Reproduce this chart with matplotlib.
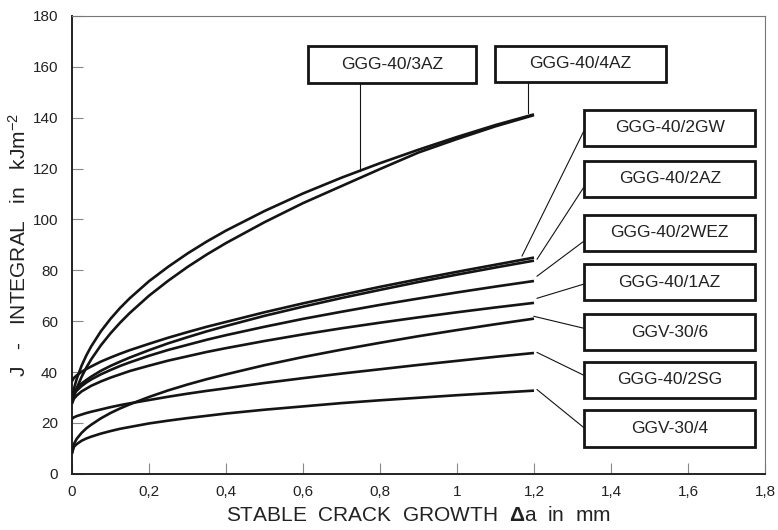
import numpy as np
import matplotlib
matplotlib.use("Agg")
import matplotlib.pyplot as plt
from matplotlib.patches import Rectangle

plt.rcParams['font.family'] = ['Liberation Sans', 'DejaVu Sans']
plt.rcParams['mathtext.fontset'] = 'custom'
plt.rcParams['mathtext.rm'] = 'Liberation Sans'
plt.rcParams['mathtext.bf'] = 'Liberation Sans:bold'
plt.rcParams['mathtext.it'] = 'Liberation Sans:italic'

# crack growth (mm) sample positions
crack_growth = [0, 0.005, 0.0125, 0.025, 0.0375, 0.05, 0.075, 0.1, 0.125, 0.15, 0.2, 0.25,
                0.3, 0.35, 0.4, 0.5, 0.6, 0.7, 0.8, 0.9, 1.0, 1.1, 1.2]

# J-integral values (kJ/m^2) for each material
j_3AZ  = [30, 33.4, 37.4, 42.5, 46.6, 50.1, 56.0, 60.9, 65.2, 69.0, 75.7, 81.4,
          86.6, 91.3, 95.6, 103.3, 110.2, 116.4, 122.1, 127.4, 132.4, 137.1, 141.3]
j_4AZ  = [28, 30.5, 33.7, 38.1, 41.8, 45.0, 50.5, 55.2, 59.4, 63.2, 70.0, 75.9,
          81.3, 86.2, 90.7, 98.9, 106.4, 113.1, 119.8, 126.3, 131.6, 136.6, 141.0]
j_2GW  = [36.4, 37.7, 38.7, 40.1, 41.2, 42.2, 44.1, 45.7, 47.2, 48.6, 51.1, 53.5,
          55.7, 57.8, 59.7, 63.5, 67.0, 70.3, 73.5, 76.5, 79.4, 82.2, 85.0]
j_2AZ  = [30, 32.1, 33.6, 35.5, 36.9, 38.2, 40.5, 42.4, 44.1, 45.7, 48.6, 51.3,
          53.7, 56.0, 58.1, 62.1, 65.7, 69.1, 72.3, 75.4, 78.3, 81.1, 83.8]
j_2WEZ = [29, 31.3, 32.7, 34.5, 35.9, 37.1, 39.1, 40.8, 42.4, 43.8, 46.4, 48.7,
          50.7, 52.7, 54.5, 57.8, 60.9, 63.7, 66.4, 68.9, 71.3, 73.6, 75.8]
j_1AZ  = [27.5, 29.5, 30.8, 32.4, 33.5, 34.6, 36.3, 37.8, 39.1, 40.4, 42.5, 44.5,
          46.2, 47.9, 49.4, 52.2, 54.8, 57.2, 59.4, 61.5, 63.5, 65.4, 67.2]
j_GGV6 = [8, 11.7, 13.8, 16.1, 17.9, 19.3, 21.8, 23.9, 25.7, 27.3, 30.2, 32.8,
          35.1, 37.2, 39.1, 42.7, 45.9, 48.8, 51.5, 54.1, 56.5, 58.8, 61.0]
j_2SG  = [21.6, 22.2, 22.7, 23.3, 23.9, 24.4, 25.3, 26.2, 27.0, 27.7, 29.0, 30.3,
          31.5, 32.6, 33.6, 35.7, 37.6, 39.4, 41.1, 42.8, 44.4, 46.0, 47.5]
j_GGV4 = [8, 10.6, 11.7, 13.0, 13.9, 14.6, 15.8, 16.8, 17.7, 18.4, 19.8, 20.9,
          21.9, 22.8, 23.7, 25.2, 26.5, 27.8, 28.9, 29.9, 30.9, 31.8, 32.7]

labels = ["GGG-40/3AZ", "GGG-40/4AZ", "GGG-40/2GW", "GGG-40/2AZ", "GGG-40/2WEZ",
          "GGG-40/1AZ", "GGV-30/6", "GGG-40/2SG", "GGV-30/4"]
series = [j_3AZ, j_4AZ, j_2GW, j_2AZ, j_2WEZ, j_1AZ, j_GGV6, j_2SG, j_GGV4]

x_ticks = [0, 0.2, 0.4, 0.6, 0.8, 1.0, 1.2, 1.4, 1.6, 1.8]
x_ticklabels = ["0", "0,2", "0,4", "0,6", "0,8", "1", "1,2", "1,4", "1,6", "1,8"]
y_ticks = [0, 20, 40, 60, 80, 100, 120, 140, 160, 180]

fig = plt.figure(figsize=(7.78, 5.30), dpi=100)
ax = fig.add_axes([0.0925, 0.106, 0.8908, 0.864])

ink = '#141414'
for ys in series:
    ax.plot(crack_growth, ys, color=ink, lw=1.9, solid_capstyle='butt',
            solid_joinstyle='round', zorder=3)

ax.set_xlim(0, 1.8)
ax.set_ylim(0, 180)
ax.set_xticks(x_ticks)
ax.set_xticklabels(x_ticklabels)
ax.set_yticks(y_ticks)
ax.tick_params(axis='both', direction='in', length=8, width=0.8, color='#888888',
               labelsize=11, labelcolor='#222222')
ax.tick_params(axis='y', pad=10)
ax.tick_params(axis='x', pad=8)

for side in ['left', 'bottom']:
    ax.spines[side].set_linewidth(1.4)
    ax.spines[side].set_color('#222222')
for side in ['top', 'right']:
    ax.spines[side].set_linewidth(0.8)
    ax.spines[side].set_color('#777777')

ax.set_xlabel(r'STABLE  CRACK  GROWTH  $\mathbf{\Delta}$a  in  mm', fontsize=15,
              color='#222222', labelpad=5)
ax.set_ylabel(r'J   -   INTEGRAL   in   kJm$^{-2}$', fontsize=15, color='#222222',
              labelpad=2)

# ---- label boxes and leader lines ----
def box(x0, x1, yc, h, text):
    ax.add_patch(Rectangle((x0, yc - h / 2), x1 - x0, h, fill=True, facecolor='white',
                           edgecolor=ink, lw=2.0, zorder=5, clip_on=False))
    ax.text((x0 + x1) / 2, yc, text, ha='center', va='center', fontsize=12.5,
            color='#222222', zorder=6)

def leader(p, q):
    ax.plot([p[0], q[0]], [p[1], q[1]], color=ink, lw=0.8, zorder=4)

bh = 14.2
# top boxes
box(0.613, 1.049, 160.9, bh, labels[0])
box(1.099, 1.543, 161.1, bh, labels[1])
xa = 0.748
leader((xa, 160.9 - bh / 2), (xa, np.interp(xa, crack_growth, j_3AZ)))
xb = 1.184
leader((xb, 161.1 - bh / 2), (xb, np.interp(xb, crack_growth, j_4AZ) + 1.5))

# right boxes
bx0, bx1 = 1.33, 1.775
box_centres = [136.1, 116.0, 94.7, 75.3, 55.6, 36.9, 17.8]
box_hits = [134.9, 112.8, 91.5, 74.6, 57.2, 38.7, 18.1]
starts_dx = [-0.031, 0.008, 0.008, 0.008, 0.0, 0.008, 0.008]
starts_dy = [1.5, 0.6, 1.9, 1.8, 0.9, 0.2, 0.4]
for i, ys in enumerate(series[2:]):
    box(bx0, bx1, box_centres[i], bh, labels[i + 2])
    sx = crack_growth[-1] + starts_dx[i]
    sy = np.interp(min(sx, crack_growth[-1]), crack_growth, ys) + starts_dy[i]
    leader((sx, sy), (bx0, box_hits[i]))

fig.savefig('out.png', dpi=100)
